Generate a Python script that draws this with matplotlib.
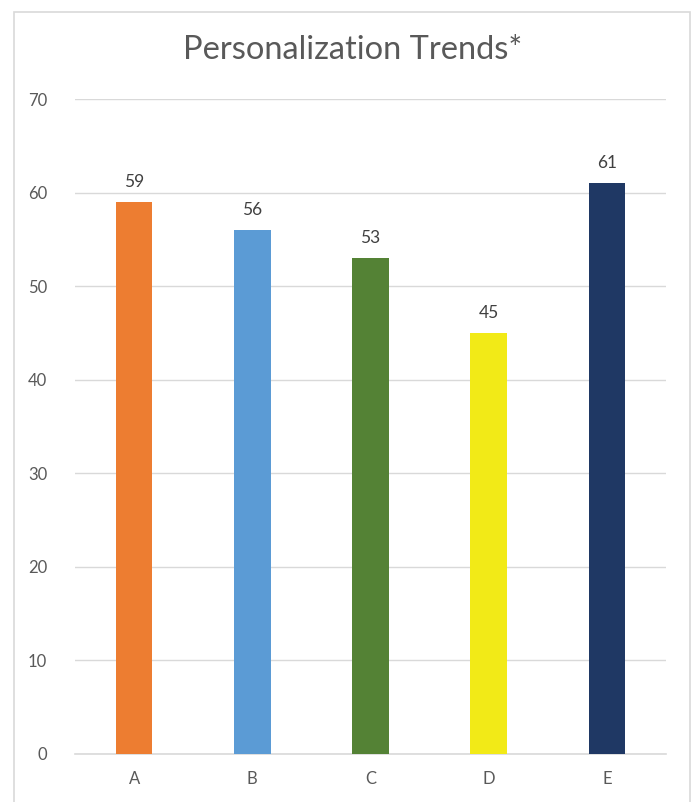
import matplotlib
matplotlib.use("Agg")
import matplotlib.pyplot as plt
from matplotlib.patches import Rectangle

categories = ["A", "B", "C", "D", "E"]
values = [59, 56, 53, 45, 61]
colors = ["#ED7D31", "#5B9BD5", "#548235", "#F2EA17", "#1F3864"]
yticks = [0, 10, 20, 30, 40, 50, 60, 70]

plt.rcParams['font.family'] = ['Lato', 'DejaVu Sans']

W, H = 699, 802
fig = plt.figure(figsize=(W/100, H/100), dpi=100)
fig.patch.set_facecolor("white")

# outer chart border
fig.add_artist(Rectangle((14/W, -0.01), (690-14)/W, (H-12)/H + 0.01,
                         transform=fig.transFigure, fill=False,
                         edgecolor="#D9D9D9", linewidth=1.2))

ax = fig.add_axes([75/W, (H-754)/H, (666-75)/W, (754-99)/H])
x = list(range(len(categories)))
ax.bar(x, values, width=0.31, color=colors, zorder=3)
for xi, v in zip(x, values):
    ax.text(xi, v + 1.3, str(v), ha="center", va="bottom", fontsize=12.5, color="#404040")

ax.set_xlim(-0.5, 4.5)
ax.set_ylim(0, 70)
ax.set_yticks(yticks)
ax.set_xticks(x)
ax.set_xticklabels(categories)
ax.grid(axis="y", color="#D9D9D9", linewidth=1, zorder=0)
for s in ["top", "right", "left"]:
    ax.spines[s].set_visible(False)
ax.spines["bottom"].set_color("#D9D9D9")
ax.spines["bottom"].set_linewidth(1.2)
ax.tick_params(axis="both", length=0, labelsize=12, colors="#595959")
ax.tick_params(axis="y", pad=20)
ax.tick_params(axis="x", pad=12)

fig.text(353/W, 1 - 50/H, "Personalization Trends*", ha="center", va="center",
         fontsize=23.5, color="#595959")

fig.savefig("out.png", dpi=100)
